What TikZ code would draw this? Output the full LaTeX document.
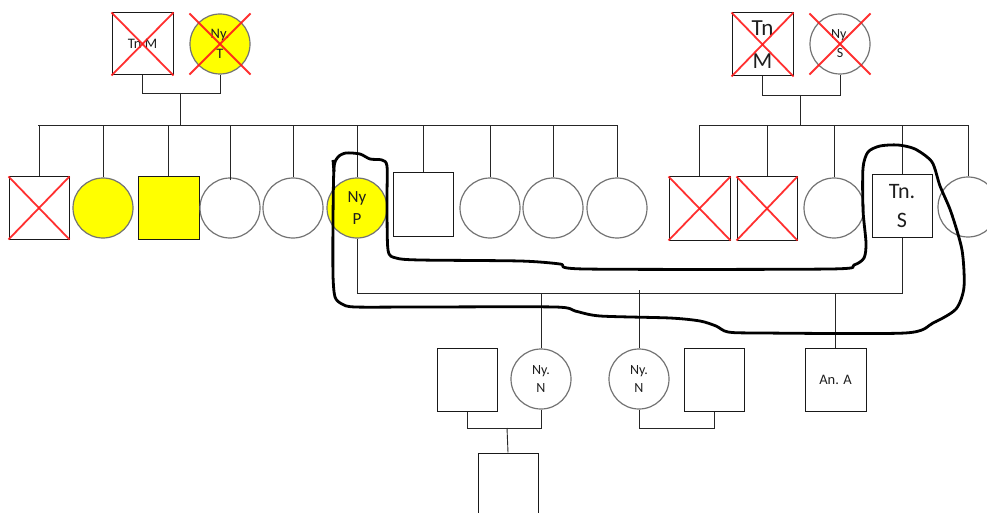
\documentclass[tikz,border=0pt]{standalone}
\usepackage{fontspec}
\setmainfont{Carlito}
\definecolor{txt}{HTML}{1E1E1E}
\definecolor{xred}{HTML}{FF1A1A}
\definecolor{yel}{HTML}{FFFF00}
\begin{document}
\begin{tikzpicture}[x=1pt,y=-1pt,
  sq/.style={draw=black!90, line width=1pt, minimum width=60pt, minimum height=62pt, inner sep=0pt, align=center, text=txt},
  cir/.style={draw=black!55, line width=1.2pt, circle, minimum size=60pt, inner sep=0pt, align=center, text=txt},
  yel/.style={fill=yel},
  link/.style={draw=black!85, line width=0.9pt},
  xline/.style={draw=xred, line width=1.8pt, opacity=0.9},
  loopline/.style={draw=black, line width=2.8pt, line join=round},
  fs/.style={font=\fontsize{#1}{#1}\selectfont}
]
\useasboundingbox (0,0) rectangle (987,513);

% ---------- top-left parents ----------
\node[sq, minimum width=61pt, fs=14.5] (tlM) at (142.5,44) {Tn M};
\node[cir, yel, fs=14.5] (tlT) at (220,44) {Ny.\\[5pt]T};
% ---------- top-right parents ----------
\node[sq, minimum width=61pt, minimum height=63pt, fs=23] (trM) at (762.5,44.5) {Tn\\[10pt]M};
\node[cir, fs=14] (trS) at (840,44) {Ny.\\[5pt]S};

% ---------- row of children ----------
\node[sq] (c1) at (39,208) {};
\node[cir, yel] (c2) at (103,208) {};
\node[sq, yel, minimum width=61pt] (c3) at (168.5,208) {};
\node[cir] (c4) at (230,208) {};
\node[cir] (c5) at (293,208) {};
\node[cir, yel, fs=17] (P) at (357,208) {Ny\\[5pt]P};
\node[sq, minimum height=63pt] (c7) at (423,204.5) {};
\node[cir] (c8) at (490,208) {};
\node[cir] (c9) at (553,208) {};
\node[cir] (c10) at (617,208) {};

\node[sq, minimum width=61pt, minimum height=63pt] (r1) at (699.5,208.5) {};
\node[sq, minimum height=63pt] (r2) at (767,208.5) {};
\node[cir] (r3) at (834,208) {};
\node[sq, fs=22] (S) at (902,206) {Tn.\\[7pt]S};
\node[cir] (r5) at (968,207) {};

% ---------- bottom generation ----------
\node[sq, minimum height=63pt] (b1) at (467,379.5) {};
\node[cir, fs=14] (N1) at (541,379) {Ny.\\[4pt]N};
\node[cir, fs=14] (N2) at (639,379) {Ny.\\[4pt]N};
\node[sq, minimum height=63pt] (b2) at (714,379.5) {};
\node[sq, minimum width=61pt, minimum height=63pt, fs=14.5] (A) at (835.5,379.5) {An. A};
\node[sq] (ch) at (508,484) {};

% ---------- red crosses ----------
\foreach \n in {tlM,tlT,trM,trS,c1,r1,r2}{
  \draw[xline] (\n.north -| \n.west) -- (\n.south -| \n.east);
  \draw[xline] (\n.north -| \n.east) -- (\n.south -| \n.west);
}

% ---------- connectors: left family ----------
\coordinate (m1) at (180,93);
\coordinate (bar1L) at (38,125);
\coordinate (bar1R) at (618,125);
\draw[link] (tlM.south) -- (tlM.south |- m1) -| (tlT.south);
\draw[link] (m1) -- (m1 |- bar1L);
\draw[link] (bar1L) -- (bar1R);
\foreach \n in {c1,c2,c3,c5,P,c7,c8,c9,c10}{
  \draw[link] (\n.north) -- (\n.north |- bar1L);
}
\draw[link] ([yshift=-3pt]c4.north) -- (c4.north |- bar1L);

% ---------- connectors: right family ----------
\coordinate (m2) at (800,95);
\coordinate (bar2L) at (700,125);
\coordinate (bar2R) at (969,125);
\draw[link] (trM.south) -- (trM.south |- m2) -| (trS.south);
\draw[link] (m2) -- (m2 |- bar2L);
\draw[link] (bar2L) -- (bar2R);
\foreach \n in {r1,r2,r3,S,r5}{
  \draw[link] (\n.north) -- (\n.north |- bar2L);
}

% ---------- marriage Ny P -- Tn. S ----------
\coordinate (m3) at (541,293);
\draw[link] (P.south) -- (P.south |- m3) -| (S.south);
\draw[link] (N1.north) -- (N1.north |- m3);
\draw[link] (N2.north) -- ([yshift=3pt]N2.north |- m3);
\draw[link] (A.north) -- (A.north |- m3);

% ---------- bottom couples ----------
\coordinate (m4) at (507,428);
\draw[link] (b1.south) -- (b1.south |- m4) -| (N1.south);
\draw[link] (m4) -- (ch.north);
\coordinate (m5) at (680,428);
\draw[link] (N2.south) -- (N2.south |- m5) -| (b2.south);

% ---------- freehand loop ----------
\draw[loopline] plot[smooth cycle, tension=0.45] coordinates {
 (334,168) (333,220) (333,275) (335,297) (342,304) (355,307) (420,307) (555,307)
 (575,311) (600,316) (670,318) (700,321) (716,326) (728,332) (760,333) (905,333)
 (933,323) (956,309) (964,287) (962,250) (951,212) (940,186) (932,162) (915,149)
 (898,145) (880,146) (868,152) (863,168) (863,210) (866,243) (864,258) (854,265)
 (830,269) (585,269) (560,264) (520,261) (420,260) (396,258) (388,250) (387,200)
 (387,166) (382,160) (370,159) (360,154) (346,153) (338,157)};
\draw[loopline] (333,160) -- (334,172);
\end{tikzpicture}
\end{document}
